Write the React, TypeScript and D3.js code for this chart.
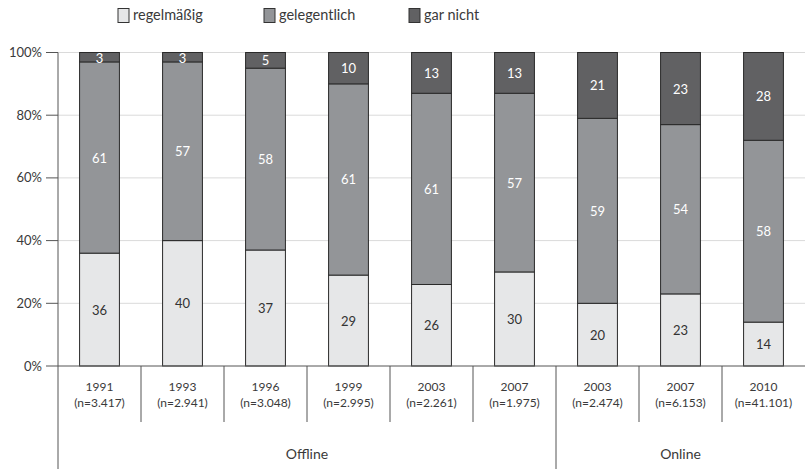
import React from "react";
import * as d3 from "d3";

const years = ["1991", "1993", "1996", "1999", "2003", "2007", "2003", "2007", "2010"];
const sampleSizes = ["(n=3.417)", "(n=2.941)", "(n=3.048)", "(n=2.995)", "(n=2.261)", "(n=1.975)", "(n=2.474)", "(n=6.153)", "(n=41.101)"];
const groups = ["Offline", "Offline", "Offline", "Offline", "Offline", "Offline", "Online", "Online", "Online"];
const groupNames = ["Offline", "Online"];
const regelmaessig = [36, 40, 37, 29, 26, 30, 20, 23, 14];
const gelegentlich = [61, 57, 58, 61, 61, 57, 59, 54, 58];
const garNicht = [3, 3, 5, 10, 13, 13, 21, 23, 28];
const seriesNames = ["regelmäßig", "gelegentlich", "gar nicht"];
const yTicks = [0, 20, 40, 60, 80, 100];

const W = 808, H = 469;
const left = 58, right = 805, top = 52.5, bottom = 366;
const colors = ["#e6e7e8", "#939598", "#616163"];
const textColors = ["#333", "#fff", "#fff"];
const font = "Lato, 'Open Sans', sans-serif";

export default function App() {
  const idx = years.map((_, i) => i);
  const x = d3.scaleBand<number>().domain(idx).range([left, right]).paddingInner(0).paddingOuter(0);
  const y = d3.scaleLinear().domain([0, 100]).range([bottom, top]);
  const bw = x.bandwidth() * 0.48;
  const rows = idx.map(i => ({ i, r: regelmaessig[i], g: gelegentlich[i], n: garNicht[i] }));
  const stack = d3.stack<any>().keys(["r", "g", "n"])(rows);

  const groupRanges = groupNames.map(gn => {
    const members = idx.filter(i => groups[i] === gn);
    const x0 = x(members[0])!;
    const x1 = x(members[members.length - 1])! + x.bandwidth();
    return { gn, x0, x1 };
  });

  return (
    <svg width={W} height={H} style={{ position: "absolute", left: 0, top: 0, fontFamily: font }}>
      <rect width={W} height={H} fill="#fff" />
      {/* legend */}
      {seriesNames.map((s, k) => {
        const lx = [118, 264, 409][k];
        return (
          <g key={s}>
            <rect x={lx} y={8.5} width={11} height={14} fill={colors[k]} stroke="#333" strokeWidth={1} />
            <text x={lx + 15} y={20} fontSize={14.5} fill="#3a3a3a">{s}</text>
          </g>
        );
      })}
      {/* gridlines */}
      {yTicks.filter(t => t > 0).map(t => (
        <line key={t} x1={left} x2={right} y1={y(t)} y2={y(t)} stroke="#dadada" strokeWidth={1} />
      ))}
      {/* y ticks */}
      {yTicks.map(t => (
        <g key={t}>
          <line x1={46} x2={left} y1={y(t)} y2={y(t)} stroke="#555" strokeWidth={1} />
          <text x={42} y={y(t) + 4.5} textAnchor="end" fontSize={13} fill="#3a3a3a">{t}%</text>
        </g>
      ))}
      {/* bars */}
      {stack.map((layer, k) => (
        <g key={k}>
          {layer.map((d, i) => {
            const bx = x(i)! + (x.bandwidth() - bw) / 2;
            const y0 = y(d[1]);
            const h = y(d[0]) - y(d[1]);
            const v = d[1] - d[0];
            const ty = h < 14 ? y0 + 10 : y0 + h / 2 + 5;
            return (
              <g key={i}>
                <rect x={bx} y={y0} width={bw} height={h} fill={colors[k]} stroke="#2a2a2a" strokeWidth={1} />
                <text x={bx + bw / 2} y={ty} textAnchor="middle" fontSize={13} fill={textColors[k]}>{v}</text>
              </g>
            );
          })}
        </g>
      ))}
      {/* axis lines */}
      <line x1={left} x2={right} y1={bottom} y2={bottom} stroke="#555" strokeWidth={1} />
      <line x1={left} x2={left} y1={top} y2={H} stroke="#555" strokeWidth={1} />
      {/* category separators */}
      {idx.slice(1).map(i => {
        const isGroupEdge = groups[i] !== groups[i - 1];
        return (
          <line key={i} x1={x(i)!} x2={x(i)!} y1={bottom} y2={isGroupEdge ? H : 422} stroke="#555" strokeWidth={1} />
        );
      })}
      {/* category labels */}
      {idx.map(i => (
        <g key={i}>
          <text x={x(i)! + x.bandwidth() / 2} y={391} textAnchor="middle" fontSize={12} fill="#3a3a3a">{years[i]}</text>
          <text x={x(i)! + x.bandwidth() / 2} y={407} textAnchor="middle" fontSize={12} fill="#3a3a3a">{sampleSizes[i]}</text>
        </g>
      ))}
      {groupRanges.map(g => (
        <text key={g.gn} x={(g.x0 + g.x1) / 2} y={459} textAnchor="middle" fontSize={14} fill="#3a3a3a">{g.gn}</text>
      ))}
    </svg>
  );
}
